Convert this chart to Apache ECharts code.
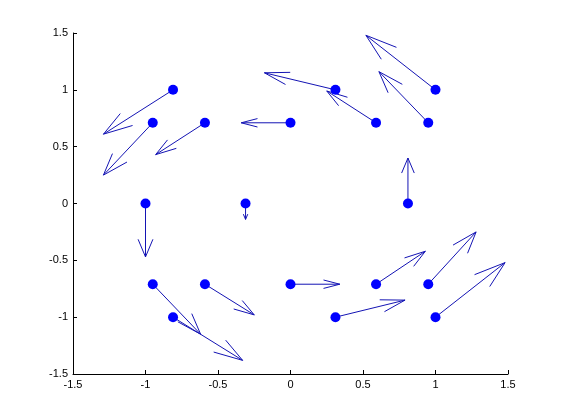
<!DOCTYPE html>
<html>
<head>
<meta charset="utf-8">
<script src="https://cdn.jsdelivr.net/npm/echarts@6/dist/echarts.min.js"></script>
<style>
html,body{margin:0;padding:0;background:#fff;}
#chart{width:561px;height:420px;}
</style>
</head>
<body>
<div id="chart"></div>
<script>
// Base points of the arrows
var xs = [-0.81, 0.31, 1.0, -0.95, -0.59, 0, 0.59, 0.95, -1.0, -0.31, 0.81, -0.95, -0.59, 0, 0.59, 0.95, -0.81, 0.31, 1.0];
var ys = [1, 1, 1, 0.71, 0.71, 0.71, 0.71, 0.71, 0, 0, 0, -0.71, -0.71, -0.71, -0.71, -0.71, -1, -1, -1];
// Arrow components
var us = [-0.48, -0.49, -0.48, -0.34, -0.34, -0.34, -0.34, -0.34, 0, 0, 0, 0.33, 0.34, 0.34, 0.34, 0.33, 0.48, 0.48, 0.48];
var vs = [-0.39, 0.15, 0.48, -0.46, -0.28, 0, 0.28, 0.45, -0.47, -0.14, 0.40, -0.44, -0.27, 0, 0.29, 0.46, -0.38, 0.15, 0.48];
var tickLabels = ['-1.5', '-1', '-0.5', '0', '0.5', '1', '1.5'];

var arrowData = xs.map(function (x, i) { return [x, ys[i], us[i], vs[i]]; });
var pointData = xs.map(function (x, i) { return [x, ys[i]]; });

var lineColor = '#1414b4';
var alpha = 0.33, beta = 0.33;

function renderArrow(params, api) {
  var x = api.value(0), y = api.value(1), u = api.value(2), v = api.value(3);
  var tx = x + u, ty = y + v;
  var p0 = api.coord([x, y]);
  var p1 = api.coord([tx, ty]);
  var b1 = api.coord([tx - alpha * (u + beta * v), ty - alpha * (v - beta * u)]);
  var b2 = api.coord([tx - alpha * (u - beta * v), ty - alpha * (v + beta * u)]);
  var style = { stroke: lineColor, lineWidth: 1, fill: null };
  return {
    type: 'group',
    children: [
      { type: 'polyline', shape: { points: [p0, p1] }, style: style },
      { type: 'polyline', shape: { points: [b1, p1, b2] }, style: style }
    ]
  };
}

var axisCommon = {
  type: 'value', min: -1.5, max: 1.5, interval: 0.5,
  axisLine: { show: true, onZero: false, lineStyle: { color: '#000', width: 1 } },
  axisTick: { show: true, inside: true, length: 4, lineStyle: { color: '#000' } },
  splitLine: { show: false },
  axisLabel: {
    color: '#000', fontFamily: 'Liberation Sans, Arial, sans-serif', fontSize: 11,
    formatter: function (val) {
      var idx = Math.round((val + 1.5) / 0.5);
      return tickLabels[idx];
    }
  }
};

var chart = echarts.init(document.getElementById('chart'), null, { renderer: 'canvas' });
chart.setOption({
  animation: false,
  backgroundColor: '#fff',
  grid: { left: 73, right: 53, top: 33, bottom: 46, containLabel: false },
  xAxis: Object.assign({}, axisCommon, { axisLabel: Object.assign({}, axisCommon.axisLabel, { margin: 5 }) }),
  yAxis: Object.assign({}, axisCommon, { axisLabel: Object.assign({}, axisCommon.axisLabel, { margin: 5 }) }),
  series: [
    {
      type: 'custom',
      renderItem: renderArrow,
      data: arrowData,
      encode: { x: 0, y: 1 },
      clip: false,
      z: 2
    },
    {
      type: 'scatter',
      data: pointData,
      symbol: 'circle',
      symbolSize: 10,
      itemStyle: { color: '#0000ff', opacity: 1 },
      z: 3
    }
  ]
});
</script>
</body>
</html>
